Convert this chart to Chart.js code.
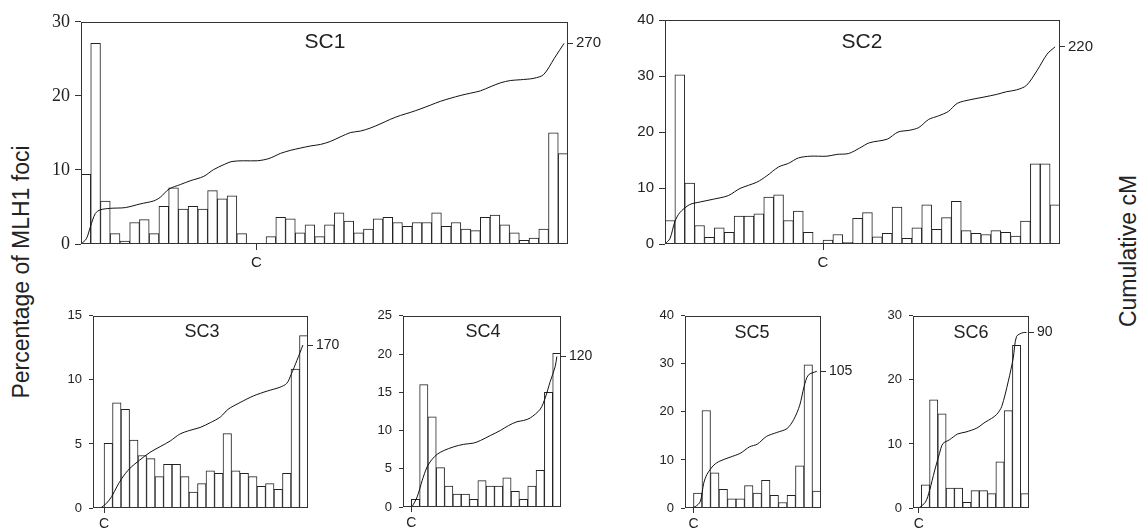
<!DOCTYPE html>
<html>
<head>
<meta charset="utf-8">
<script src="https://cdn.jsdelivr.net/npm/chart.js@4.4.1/dist/chart.umd.min.js"></script>
<style>
  html, body { margin: 0; padding: 0; background: #fff; }
  body { width: 1144px; height: 530px; position: relative; overflow: hidden;
         font-family: "Liberation Sans", Arial, sans-serif; color: #222; }
  canvas { position: absolute; }
  .title { position: absolute; transform: translate(-50%, -50%); white-space: nowrap; }
  .axis-label { position: absolute; transform: translate(-50%, -50%) rotate(-90deg);
                font-size: 23px; white-space: nowrap; }
</style>
</head>
<body>
<div class="axis-label" style="left:21px; top:272px;">Percentage of MLH1 foci</div>
<div class="axis-label" style="left:1128px; top:251px;">Cumulative cM</div>

<script>
// Percentage of MLH1 foci per interval (bars)
const sc1Bars = [9.4, 27.1, 5.8, 1.4, 0.4, 2.9, 3.3, 1.4, 5.1, 7.6,
                 4.7, 5.1, 4.7, 7.2, 6.1, 6.5, 1.4, 0, 0, 1.0,
                 3.6, 3.4, 1.5, 2.6, 1.0, 2.6, 4.2, 3.1, 1.5, 2.0,
                 3.4, 3.6, 2.9, 2.4, 2.9, 2.9, 4.2, 2.4, 2.9, 2.0,
                 1.8, 3.6, 3.9, 2.6, 1.5, 0.5, 0.8, 2.0, 15.0, 12.2];
const sc2Bars = [4.2, 30.2, 10.9, 3.3, 1.2, 2.9, 2.1, 5.0, 5.0, 5.4,
                 8.4, 8.8, 4.2, 5.9, 2.1, 0, 0.7, 1.7, 0.3, 4.6,
                 5.6, 1.3, 1.9, 6.6, 1.0, 2.9, 7.0, 2.6, 4.7, 7.6,
                 2.4, 1.9, 1.7, 2.4, 2.1, 1.4, 4.1, 14.3, 14.3, 7.0];
const sc3Bars = [5.05, 8.2, 7.7, 5.3, 4.1, 3.85, 2.45, 3.4, 3.4, 2.45, 1.25, 1.9,
                 2.9, 2.7, 5.8, 2.9, 2.7, 2.45, 1.7, 1.9, 1.45, 2.7, 10.85, 13.45];
const sc4Bars = [1.0, 16.0, 11.8, 5.15, 2.75, 1.7, 1.7, 1.0, 3.45,
                 2.75, 2.75, 3.8, 2.05, 1.0, 2.75, 4.8, 15.0, 20.1];
const sc5Bars = [3.1, 20.3, 7.3, 3.9, 1.9, 1.9, 4.65, 3.1, 5.75, 2.65, 1.15, 2.65, 8.8, 29.8, 3.5];
const sc6Bars = [3.6, 16.9, 14.7, 3.1, 3.1, 0.9, 2.7, 2.7, 2.25, 7.2, 15.2, 25.4, 2.25];

// Cumulative cM curve: position along the SC (in interval units) and value
const sc1LineX = [0, 0.55, 0.96, 1.47, 1.99, 3.01, 4.55, 6.1, 7.47, 8.15, 9.04, 10.2, 11.2, 12.6,
                  13.6, 14.7, 15.5, 16.7, 18.1, 19.3, 20.5, 21.5, 22.5, 23.6, 24.6, 25.6, 26.6,
                  27.7, 28.7, 29.7, 30.8, 31.8, 32.8, 33.8, 34.9, 35.9, 36.9, 37.9, 39, 40, 41,
                  42.1, 43.1, 44.1, 45.1, 46.5, 47.5, 48.6, 49.6];
const sc1LineCM = [0, 7, 23, 41, 46, 48, 49, 54, 58, 63, 74, 80, 85, 91,
                   100, 107, 111, 112, 112, 115, 122, 126, 129, 132, 134, 138, 144,
                   150, 152, 156, 162, 168, 173, 177, 182, 187, 192, 196, 200, 203, 206,
                   212, 217, 220, 221, 223, 228, 250, 270];
const sc2LineX = [0, 0.5, 1.0, 1.5, 2.5, 3.6, 4.9, 6.4, 7.6, 9.3, 10.3, 11.5, 12.5, 13.5, 14.7,
                  16.4, 17.4, 18.6, 19.7, 20.7, 22.5, 23.6, 24.8, 25.7, 26.7, 27.7, 28.7, 29.6,
                  30.9, 32.3, 33.6, 34.6, 35.6, 36.6, 37.7, 38.7, 39.5];
const sc2LineCM = [0, 6, 25, 35, 44, 47, 50, 54, 62, 69, 76, 86, 90, 96, 98,
                   98, 100, 101, 107, 113, 117, 125, 127, 130, 139, 143, 148, 157,
                   161, 164, 167, 170, 172, 177, 194, 212, 220];
const sc3LineX = [-0.4, 0.3, 0.9, 1.5, 2.1, 3.0, 4.2, 5.4, 6.6, 7.8, 8.9, 10.1, 11.3, 12.5,
                  13.7, 14.6, 16.0, 17.6, 19.2, 20.7, 21.5, 22.0, 22.7, 23.4];
const sc3LineCM = [0, 5, 12, 22, 31, 41, 50, 58, 64, 70, 77, 81, 84, 89,
                   95, 103, 110, 117, 122, 126, 130, 139, 154, 170];
const sc4LineX = [0.08, 0.7, 1.3, 1.9, 2.5, 3.1, 3.9, 5.1, 6.3, 7.5, 8.3, 9.5, 10.7, 11.7,
                  12.7, 13.5, 14.3, 15.5, 16.1, 16.7, 17.3, 17.5];
const sc4LineCM = [0, 8, 21, 32, 38, 42, 45, 48, 50, 51, 53, 57, 61, 65,
                   68, 69, 71, 78, 87, 100, 112, 120];
const sc5LineX = [-0.4, 0.2, 0.8, 1.2, 1.6, 2.4, 3.1, 4.3, 5.5, 6.6, 7.5, 8.6, 9.8, 11.0,
                  11.8, 12.5, 13.0, 13.5, 14.5];
const sc5LineCM = [0, 1, 5, 19, 26, 33, 36, 39, 42, 47, 49, 55, 58, 61, 68, 79, 93, 102, 105];
const sc6LineX = [-0.3, 0.5, 1.0, 1.6, 2.2, 2.6, 3.4, 4.4, 5.4, 6.7, 7.7, 8.5, 9.1, 9.7,
                  10.5, 11.1, 11.5, 12.3, 12.7];
const sc6LineCM = [0, 3, 9, 19, 28, 33, 35, 38, 39, 41, 44, 46, 48, 52, 65, 77, 88, 90, 90];

// Tick labels
const titles = ["SC1", "SC2", "SC3", "SC4", "SC5", "SC6"];
const centromereLabel = "C";
const centromerePos = [18, 16, 0, 0, 0, -0.3];
const cmEndTicks = [270, 220, 170, 120, 105, 90];
const pctMax = [30, 40, 15, 25, 40, 30];
const pctStep = [10, 10, 5, 5, 10, 10];

// Panel layout (plot-area boxes in page pixels)
const panels = [
  { bars: sc1Bars, lx: sc1LineX, ly: sc1LineCM, xMin: 0, xMax: 50, cmMax: 299,
    box: [81, 18, 487, 226], big: true, serif: true, titlePos: [325, 41] },
  { bars: sc2Bars, lx: sc2LineX, ly: sc2LineCM, xMin: 0, xMax: 40, cmMax: 250,
    box: [665, 18, 395, 226], big: true, titlePos: [862, 41] },
  { bars: sc3Bars, lx: sc3LineX, ly: sc3LineCM, xMin: -1.3, xMax: 24, cmMax: 200.5,
    box: [93, 313, 215, 195], titlePos: [202, 331] },
  { bars: sc4Bars, lx: sc4LineX, ly: sc4LineCM, xMin: -1, xMax: 18, cmMax: 152.5,
    box: [403, 313, 158, 194], titlePos: [483, 331] },
  { bars: sc5Bars, lx: sc5LineX, ly: sc5LineCM, xMin: -1, xMax: 15, cmMax: 147.6,
    box: [685, 313, 136, 195], titlePos: [752, 332] },
  { bars: sc6Bars, lx: sc6LineX, ly: sc6LineCM, xMin: -1, xMax: 13, cmMax: 98.6,
    box: [913, 313, 116, 195], titlePos: [971, 332] }
];

// Draw the box round each plot area
const framePlugin = {
  id: "frame",
  afterDraw(chart) {
    const a = chart.chartArea;
    const ctx = chart.ctx;
    ctx.save();
    ctx.strokeStyle = "#333";
    ctx.lineWidth = 1;
    ctx.strokeRect(Math.round(a.left) + 0.5, Math.round(a.top) + 0.5,
                   Math.round(a.right - a.left) - 1, Math.round(a.bottom - a.top) - 1);
    ctx.restore();
  }
};

panels.forEach(function (p, i) {
  const LW = p.big ? 45 : 35;
  const RW = p.big ? 45 : 40;
  const PT = 12;
  const BH = p.big ? 30 : 25;
  const [bx, by, bw, bh] = p.box;

  const canvas = document.createElement("canvas");
  canvas.width = bw + LW + RW;
  canvas.height = bh + PT + BH;
  canvas.style.left = (bx - LW) + "px";
  canvas.style.top = (by - PT) + "px";
  canvas.style.width = canvas.width + "px";
  canvas.style.height = canvas.height + "px";
  document.body.appendChild(canvas);

  const t = document.createElement("div");
  t.className = "title";
  t.textContent = titles[i];
  t.style.left = p.titlePos[0] + "px";
  t.style.top = p.titlePos[1] + "px";
  t.style.fontSize = (p.big ? 21 : 18) + "px";
  document.body.appendChild(t);

  const barData = p.bars.map((v, k) => ({ x: k + 0.5, y: v }));
  const lineData = p.lx.map((x, k) => ({ x: x, y: p.ly[k] }));

  const sans = "'Liberation Sans', Arial, sans-serif";
  const leftFont = p.serif
    ? { family: "'Liberation Serif', 'Times New Roman', serif", size: 18 }
    : { family: sans, size: p.big ? 15 : 13 };

  new Chart(canvas, {
    type: "bar",
    data: {
      datasets: [
        {
          type: "line",
          data: lineData,
          xAxisID: "x",
          yAxisID: "y1",
          borderColor: "#111",
          borderWidth: 1,
          pointRadius: 0,
          tension: 0.3,
          fill: false,
          order: 0,
        },
        {
          type: "bar",
          data: barData,
          xAxisID: "x",
          yAxisID: "y",
          backgroundColor: "#fff",
          borderColor: "#222",
          borderWidth: 1,
          categoryPercentage: 1,
          barPercentage: 1,
          order: 1,
        },
      ],
    },
    options: {
      responsive: false,
      animation: false,
      events: [],
      layout: { padding: { top: PT, left: 0, right: 0, bottom: 0 } },
      plugins: { legend: { display: false }, tooltip: { enabled: false } },
      scales: {
        x: {
          type: "linear",
          min: p.xMin,
          max: p.xMax,
          offset: false,
          border: { display: false },
          grid: { drawOnChartArea: false, drawTicks: true, tickLength: p.big ? 6 : 5,
                  color: "#333", offset: false },
          ticks: { autoSkip: false, maxRotation: 0, padding: p.big ? 4 : 3, color: "#222",
                   font: { family: sans, size: p.big ? 15 : 14 },
                   callback: () => centromereLabel },
          afterBuildTicks: (s) => { s.ticks = [{ value: centromerePos[i] }]; },
          afterFit: (s) => { s.height = BH; },
        },
        y: {
          position: "left",
          min: 0,
          max: pctMax[i],
          border: { display: false },
          grid: { drawOnChartArea: false, drawTicks: true, tickLength: p.big ? 6 : 4, color: "#333" },
          ticks: { stepSize: pctStep[i], padding: p.big ? 5 : 7, color: "#222", font: leftFont },
          afterFit: (s) => { s.width = LW; },
        },
        y1: {
          position: "right",
          min: 0,
          max: p.cmMax,
          border: { display: false },
          grid: { drawOnChartArea: false, drawTicks: true, tickLength: 5, color: "#333" },
          ticks: { padding: 3, color: "#222", font: { family: sans, size: p.big ? 15 : 14 },
                   callback: (v) => String(v) },
          afterBuildTicks: (s) => { s.ticks = [{ value: cmEndTicks[i] }]; },
          afterFit: (s) => { s.width = RW; },
        },
      },
    },
    plugins: [framePlugin],
  });
});
</script>
</body>
</html>
